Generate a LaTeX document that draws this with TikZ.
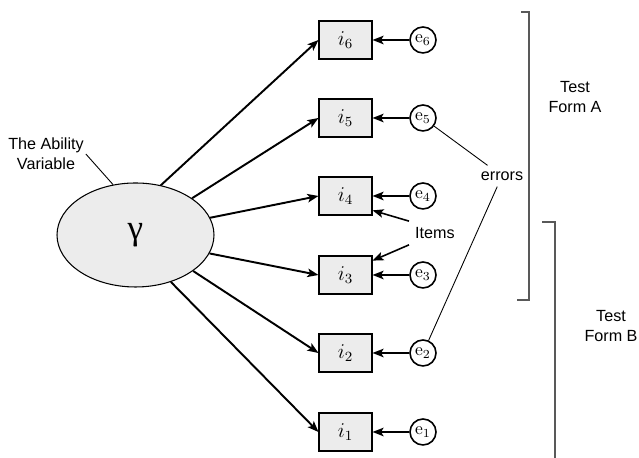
\documentclass[tikz,border=0pt]{standalone}
\usepackage{fontspec}
\setsansfont{Liberation Sans}
\newfontfamily\greekfont{Liberation Serif}
\usepackage{amsmath}
\usepackage{tikz}
\usetikzlibrary{arrows.meta, shapes.geometric}

\begin{document}
\begin{tikzpicture}[font=\sffamily\fontsize{9.2}{11.4}\selectfont]
        % Setup the styles for the nodes
        \tikzset{item style/.style={draw, rectangle,
                                    minimum width=1.06cm,
                                    minimum height=0.76cm,
                                    line width=0.6pt,
                                    fill=gray!15,
                                    font=\large},
                 error style/.style={draw, circle,
                                    minimum size=0.52cm,
                                    inner sep=0pt,
                                    line width=0.9pt,
                                    fill=white,
                                    font=\normalsize},
                 bracket style/.style={draw=black!65, line width=0.6pt},
                 arrow style/.style={-{Stealth[length=2.2mm, width=1.7mm, inset=0.5mm]}}}
        \useasboundingbox (0,0) rectangle (12.78,9.16);

        % Draw the latent variable
        \node[ellipse, draw, line width=0.6pt, fill=gray!15,
              minimum width=3.14cm, minimum height=2.08cm] at (2.71, 4.46) (gam) {\greekfont\fontsize{20}{20}\selectfont γ};
        \node[align=center, inner sep=1pt] at (0.92, 6.08) (ability) {The Ability\\Variable};

        % Draw the items
        \node[item style] at (6.91, 8.36) (i6) {$i_{6}$};
        \node[item style] at (6.91, 6.80) (i5) {$i_{5}$};
        \node[item style] at (6.91, 5.24) (i4) {$i_{4}$};
        \node[item style] at (6.91, 3.66) (i3) {$i_{3}$};
        \node[item style] at (6.91, 2.10) (i2) {$i_{2}$};
        \node[item style] at (6.91, 0.52) (i1) {$i_{1}$};

        % Draw the errors
        \node[error style] at (8.46, 8.36) (e6) {$\mathrm{e}_{6}$};
        \node[error style] at (8.46, 6.80) (e5) {$\mathrm{e}_{5}$};
        \node[error style] at (8.46, 5.24) (e4) {$\mathrm{e}_{4}$};
        \node[error style] at (8.46, 3.66) (e3) {$\mathrm{e}_{3}$};
        \node[error style] at (8.46, 2.10) (e2) {$\mathrm{e}_{2}$};
        \node[error style] at (8.46, 0.52) (e1) {$\mathrm{e}_{1}$};

        % Labels
        \node at (8.70, 4.50) (items) {Items};
        \node at (10.04, 5.64) (errors) {errors};
        \node[align=center] at (11.50, 7.22) (formA) {Test\\Form A};
        \node[align=center] at (12.22, 2.64) (formB) {Test\\Form B};

        % Connect the nodes with arrows
        \path[line width=1.1pt, arrow style]
            (gam.63)     edge            (i6.west)
            (gam.33)     edge            (i5.west)
            (gam.13)     edge            (i4.west)
            (gam.-14)     edge            (i3.west)
            (gam.-32)     edge            (i2.west)
            (gam.-53)     edge            (i1.west)
            (e6)     edge            (i6)
            (e5)     edge            (i5)
            (e4)     edge            (i4)
            (e3)     edge            (i3)
            (e2)     edge            (i2)
            (e1)     edge            (i1);
        \path[line width=0.9pt, arrow style]
            (items.north west)     edge            (i4.-28)
            (items.south west)     edge            (i3.28);
        \path[line width=0.5pt]
            (ability.east)     edge            (gam.114)
            (e5)     edge            (errors)
            (e2)     edge            (errors);

        % Brackets for the test forms
        \draw[bracket style] (10.42, 8.92) -- (10.58, 8.92) -- (10.58, 3.16) -- (10.34, 3.16);
        \draw[bracket style] (10.84, 4.72) -- (11.10, 4.72) -- (11.10, 0);
\end{tikzpicture}
\end{document}
